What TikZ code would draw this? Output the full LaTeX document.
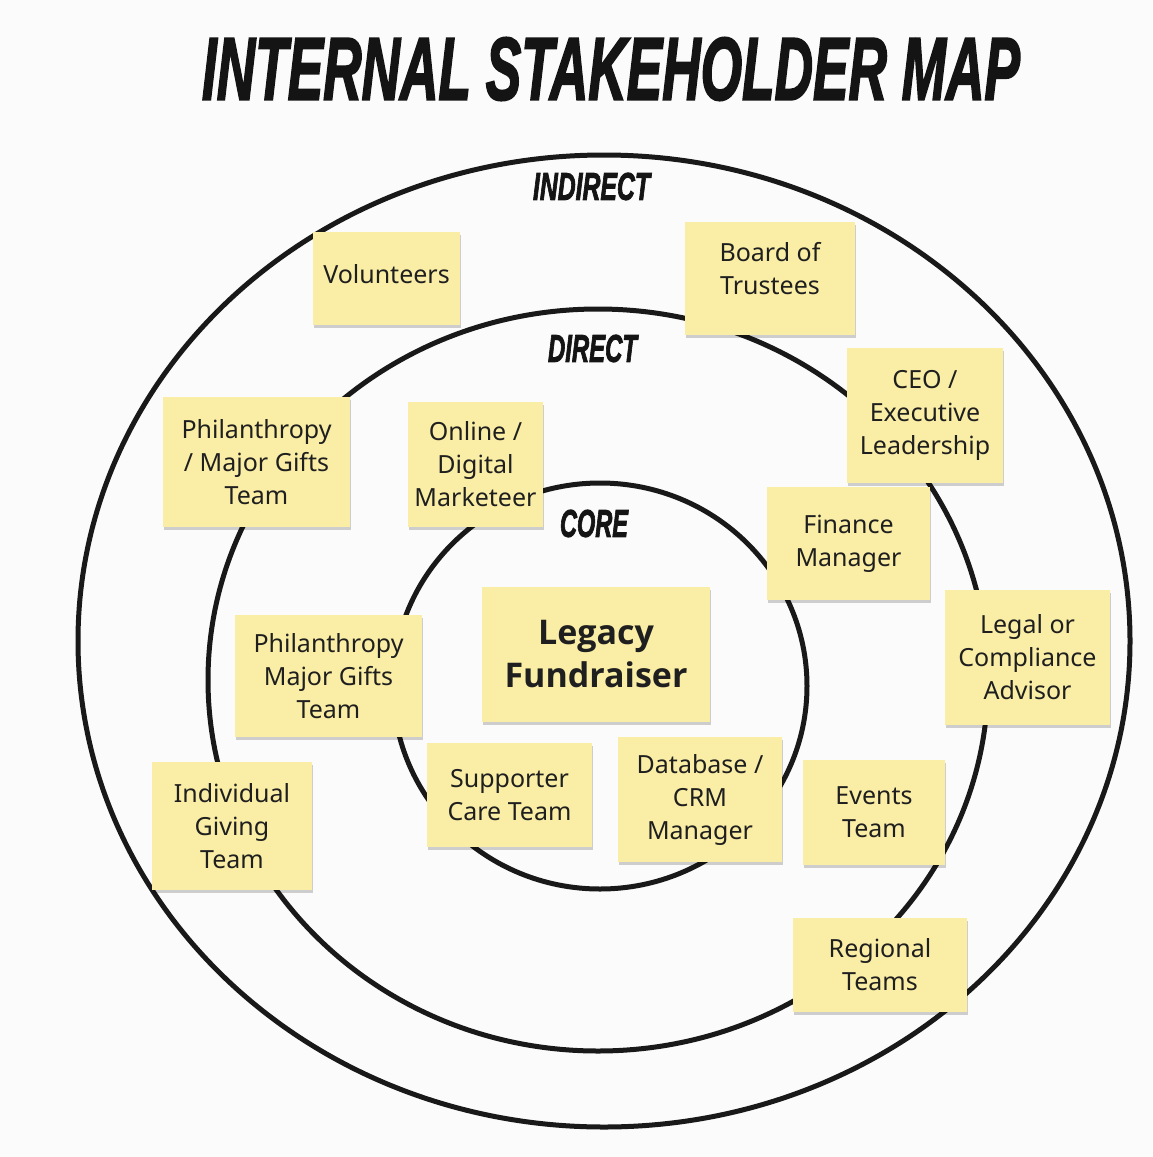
\documentclass[tikz,border=0pt]{standalone}
\usepackage{fontspec}
\usepackage{graphicx}
\setmainfont{Noto Sans}
\newfontfamily\boldnotefont{Open Sans}
\newfontfamily\labfont{Liberation Sans}[BoldItalicFeatures={FakeBold=2.5}]
\usetikzlibrary{shadows}
\definecolor{note}{RGB}{250,238,166}
\definecolor{bg}{RGB}{251,251,252}
\tikzset{
  sticky/.style={fill=note, draw=none, align=center, inner sep=0pt,
    font=\fontsize{25}{33}\selectfont, text=black!88,
    drop shadow={shadow xshift=1pt, shadow yshift=-3pt, opacity=0.18, fill=black}},
  bignote/.style={sticky, font=\fontsize{34}{43}\selectfont\boldnotefont\bfseries},
  ring/.style={draw=black!90, line width=5pt},
  ringlabel/.style={inner sep=0pt, text=black!92},
}
\newcommand{\comic}[3]{\resizebox{#1pt}{#2pt}{\labfont\bfseries\itshape #3}}
\begin{document}
\begin{tikzpicture}[x=1pt, y=-1pt]
\useasboundingbox (0,0) rectangle (1152,1157);
\fill[bg] (0,0) rectangle (1152,1157);

% title
\node[ringlabel] (title) at (611,69) {\comic{818}{62}{INTERNAL STAKEHOLDER MAP}};

% rings
\draw[ring] (604,641) ellipse [x radius=526pt, y radius=486pt];
\draw[ring] (598,680) ellipse [x radius=390pt, y radius=371pt];
\draw[ring] (600,686) ellipse [x radius=207pt, y radius=203pt];

% ring labels
\node[ringlabel] (indirect) at (591.5,186.5) {\comic{117}{27}{INDIRECT}};
\node[ringlabel] (direct) at (592.5,348.5) {\comic{89}{27}{DIRECT}};
\node[ringlabel] (core) at (594,523.5) {\comic{68}{27}{CORE}};

% sticky notes
\node[sticky, minimum width=147pt, minimum height=93pt, text depth=10pt] (vol) at (386.5,278.5) {Volunteers};
\node[sticky, minimum width=170pt, minimum height=113pt, text depth=20pt] (board) at (770,278.5) {Board of\\Trustees};
\node[sticky, minimum width=156pt, minimum height=135pt] (ceo) at (925,415.5) {CEO /\\Executive\\Leadership};
\node[sticky, minimum width=187pt, minimum height=130pt] (phil1) at (256.5,462) {Philanthropy\\/ Major Gifts\\Team};
\node[sticky, minimum width=135pt, minimum height=125pt] (online) at (475.5,464.5) {Online /\\Digital\\Marketeer};
\node[sticky, minimum width=163pt, minimum height=113pt] (fin) at (848.5,543.5) {Finance\\Manager};
\node[bignote, minimum width=228pt, minimum height=135pt] (legacy) at (596,654.5) {Legacy\\Fundraiser};
\node[sticky, minimum width=187pt, minimum height=122pt] (phil2) at (328.5,676) {Philanthropy\\Major Gifts\\Team};
\node[sticky, minimum width=165pt, minimum height=135pt] (legal) at (1027.5,657.5) {Legal or\\Compliance\\Advisor};
\node[sticky, minimum width=165pt, minimum height=104pt] (supp) at (509.5,795) {Supporter\\Care Team};
\node[sticky, minimum width=164pt, minimum height=125pt] (db) at (700,799.5) {Database /\\CRM\\Manager};
\node[sticky, minimum width=142pt, minimum height=105pt] (events) at (874,812.5) {Events\\Team};
\node[sticky, minimum width=160pt, minimum height=128pt] (indiv) at (232,826) {Individual\\Giving\\Team};
\node[sticky, minimum width=174pt, minimum height=94pt] (reg) at (880,965) {Regional\\Teams};
\end{tikzpicture}
\end{document}
